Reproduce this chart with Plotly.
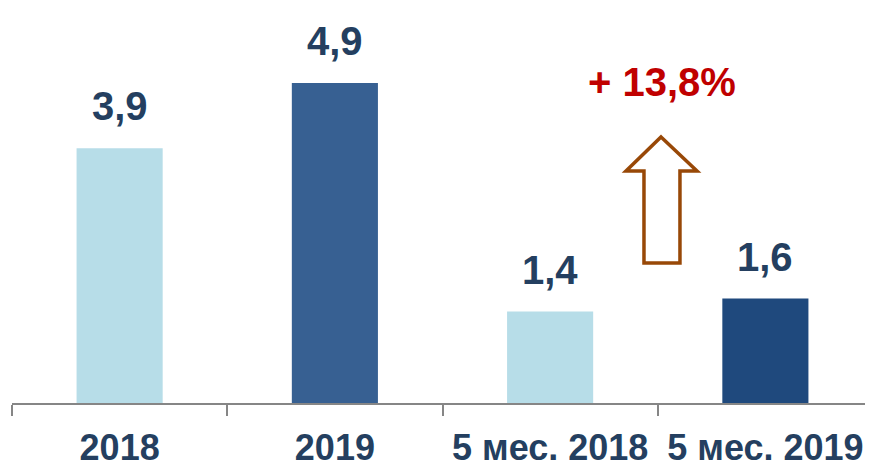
import plotly.graph_objects as go

categories = ["2018", "2019", "5 мес. 2018", "5 мес. 2019"]
values = [3.9, 4.9, 1.4, 1.6]
value_labels = ["3,9", "4,9", "1,4", "1,6"]
bar_colors = ["#b7dde8", "#376092", "#b7dde8", "#1f497d"]
growth_label = "+ 13,8%"

FONT = "Liberation Sans, Arial, sans-serif"
NAVY = "#243f60"

fig = go.Figure()
fig.add_trace(go.Bar(
    x=categories, y=values,
    marker=dict(color=bar_colors, line=dict(width=0)),
    width=0.40,
    hoverinfo="skip",
))

for i, (v, t) in enumerate(zip(values, value_labels)):
    fig.add_annotation(
        x=i, y=v, xref="x", yref="y", text=t, showarrow=False,
        yanchor="bottom", yshift=18,
        font=dict(family=FONT, size=40, color=NAVY, weight="bold"),
    )

fig.add_annotation(
    x=0.7545, y=0.834, xref="x domain", yref="y domain", text=growth_label,
    showarrow=False, xanchor="center", yanchor="middle",
    font=dict(family=FONT, size=40, color="#c00000", weight="bold"),
)

# hollow up arrow (x/y in axis-domain fractions)
tip = (0.7538, 0.6909)
hl, hr, hb = 0.7131, 0.7956, 0.6026
sl, sr, sb = 0.7340, 0.7758, 0.3636
path = (f"M {tip[0]},{tip[1]} L {hr},{hb} L {sr},{hb} L {sr},{sb} "
        f"L {sl},{sb} L {sl},{hb} L {hl},{hb} Z")
fig.add_shape(type="path", path=path, xref="x domain", yref="y domain",
              line=dict(color="#984807", width=3.5), fillcolor="white")

# page body has an 8px margin, so the figure is sized to the remaining area
fig.update_layout(
    width=865, height=454,
    margin=dict(l=4, r=0, t=10, b=59),
    paper_bgcolor="white", plot_bgcolor="white",
    showlegend=False,
)
fig.update_xaxes(
    type="category", range=[-0.5, len(categories) - 0.5], autorange=False,
    showline=True, linecolor="#868686", linewidth=2,
    ticks="outside", ticklen=11, tickwidth=2, tickcolor="#868686",
    tickson="boundaries", tickangle=0, ticklabelstandoff=12,
    tickfont=dict(family=FONT, size=36, color=NAVY, weight="bold"),
    showgrid=False, zeroline=False, automargin=False,
)
fig.update_yaxes(
    range=[0, 5.895], autorange=False, visible=False, showgrid=False, zeroline=False,
)

fig.write_html("out.html")
